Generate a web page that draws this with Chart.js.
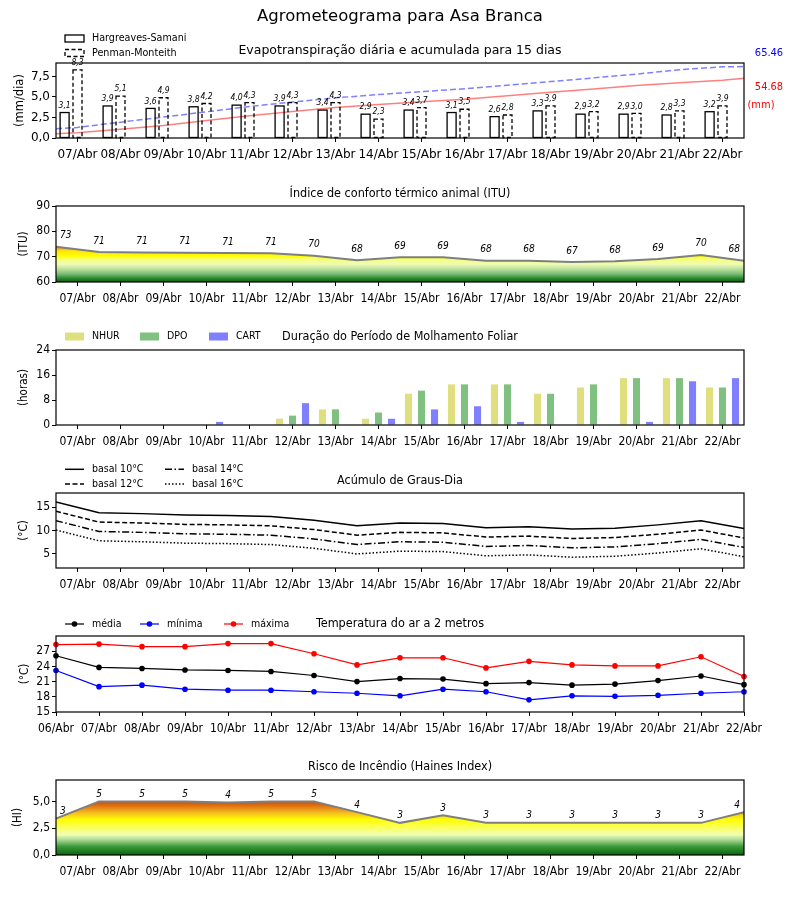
<!DOCTYPE html>
<html><head><meta charset="utf-8">
<script src="https://cdn.jsdelivr.net/npm/chart.js@4.4.1/dist/chart.umd.min.js"></script>
<style>
html,body{margin:0;padding:0;background:#fff;}
#wrap{position:relative;width:800px;height:900px;background:#fff;overflow:hidden;}
#wrap canvas{position:absolute;left:0;}
</style></head><body><div id="wrap"></div>
<script>
// ---------------- DATA ----------------
const mainTitle = 'Agrometeograma para Asa Branca';
const days = ['07/Abr','08/Abr','09/Abr','10/Abr','11/Abr','12/Abr','13/Abr','14/Abr','15/Abr','16/Abr','17/Abr','18/Abr','19/Abr','20/Abr','21/Abr','22/Abr'];
const tempDays = ['06/Abr','07/Abr','08/Abr','09/Abr','10/Abr','11/Abr','12/Abr','13/Abr','14/Abr','15/Abr','16/Abr','17/Abr','18/Abr','19/Abr','20/Abr','21/Abr','22/Abr'];

// Evapotranspiration (mm/dia)
const etHargreaves = [3.1,3.9,3.6,3.8,4.0,3.9,3.4,2.9,3.4,3.1,2.6,3.3,2.9,2.9,2.8,3.2];
const etPenman     = [8.3,5.1,4.9,4.2,4.3,4.3,4.3,2.3,3.7,3.5,2.8,3.9,3.2,3.0,3.3,3.9];
// accumulated (mm), read at day positions (-0.5 = left edge, 15.5 = right edge)
const cumPos      = [-0.5,0,1,2,3,4,5,6,7,8,9,10,11,12,13,14,15,15.5];
const cumPenman   = [8.5,9.7,14.5,19.2,24.0,28.9,33.0,36.8,39.8,42.5,45.1,48.4,51.7,55.1,58.5,62.6,65.2,65.46];
const cumHargreaves = [3.9,4.8,8.0,11.5,16.0,20.4,24.2,28.0,30.8,33.2,35.6,38.8,42.0,45.0,48.1,50.6,53.0,54.68];
const etYTicks = [0,2.5,5,7.5];

// ITU
const itu = [73.9,71.8,71.6,71.5,71.4,71.3,70.4,68.6,69.8,69.8,68.4,68.4,67.9,68.2,69.1,70.7,68.4];
const ituYTicks = [60,70,80,90];

// Leaf wetness (horas)
const nhur = [0,0,0,0,0,2,5,2,10,13,13,10,12,15,15,12];
const dpo  = [0,0,0,0,0,3,5,4,11,13,13,10,13,15,15,12];
const cart = [0,0,0,1,0,7,0,2,5,6,1,0,0,1,14,15];
const wetYTicks = [0,8,16,24];

// Degree days
const gd10 = [16.1,13.8,13.6,13.3,13.2,13.0,12.2,11.0,11.6,11.5,10.6,10.8,10.3,10.5,11.2,12.1,10.4];
const gd12 = [14.1,11.8,11.6,11.3,11.2,11.0,10.2,9.0,9.6,9.5,8.6,8.8,8.3,8.5,9.2,10.1,8.4];
const gd14 = [12.1,9.8,9.6,9.3,9.2,9.0,8.2,7.0,7.6,7.5,6.6,6.8,6.3,6.5,7.2,8.1,6.4];
const gd16 = [10.1,7.8,7.6,7.3,7.2,7.0,6.2,5.0,5.6,5.5,4.6,4.8,4.3,4.5,5.2,6.1,4.4];
const gdYTicks = [5,10,15];

// Air temperature
const tMean = [26.1,23.8,23.6,23.3,23.2,23.0,22.2,21.0,21.6,21.5,20.6,20.8,20.3,20.5,21.2,22.1,20.4];
const tMin  = [23.2,20.0,20.3,19.5,19.3,19.3,19.0,18.7,18.2,19.5,19.0,17.4,18.2,18.1,18.3,18.7,19.0];
const tMax  = [28.3,28.4,27.9,27.9,28.5,28.5,26.5,24.3,25.7,25.7,23.7,25.0,24.3,24.1,24.1,25.9,22.0];
const tYTicks = [15,18,21,24,27];

// Haines index
const haines = [3.4,5.0,5.0,5.0,4.9,5.0,5.0,4.0,3.0,3.7,3.0,3.0,3.0,3.0,3.0,3.0,4.0];
const hiYTicks = [0,2.5,5];

// ---------------- STYLE HELPERS ----------------
const FONT = "'DejaVu Sans'";
const COND = "'DejaVu Sans Condensed', 'DejaVu Sans'";
const comma1 = v => Number(v).toFixed(1).replace('.', ',');
const wrap = document.getElementById('wrap');

function makeCanvas(top, height) {
  const c = document.createElement('canvas');
  c.width = 800; c.height = height;
  c.style.top = top + 'px'; c.style.width = '800px'; c.style.height = height + 'px';
  wrap.appendChild(c);
  return c;
}

function xLinear(min, max, tickValues, labels, family) {
  return {
    type: 'linear', min, max, position: 'bottom', offset: false,
    afterBuildTicks: s => { s.ticks = tickValues.map(v => ({ value: v })); },
    afterFit: s => { s.height = 30; },
    ticks: { autoSkip: false, maxRotation: 0, minRotation: 0, padding: 6, color: '#000',
      font: { family, size: 12 }, callback: (v, i) => labels[i] },
    grid: { display: true, offset: false, drawOnChartArea: false, drawTicks: true, tickLength: 4, color: '#000', lineWidth: 1 },
    border: { display: false }
  };
}
function yLinear(min, max, tickValues, fmt, title, titlePad, family) {
  return {
    type: 'linear', min, max, position: 'left',
    afterBuildTicks: s => { s.ticks = tickValues.map(v => ({ value: v })); },
    afterFit: s => { s.width = 56; },
    ticks: { padding: 2, color: '#000', font: { family, size: 12 }, callback: v => fmt(v) },
    grid: { display: true, drawOnChartArea: false, drawTicks: true, tickLength: 4, color: '#000', lineWidth: 1 },
    border: { display: false },
    title: { display: true, text: title, color: '#000', font: { family, size: 11.5 }, padding: { top: titlePad, bottom: 0 } }
  };
}
function valueGradient(stops) {
  return (context) => {
    const chart = context.chart;
    if (!chart.chartArea) return 'rgba(0,0,0,0)';
    const y = chart.scales.y;
    const p0 = y.getPixelForValue(y.min), p1 = y.getPixelForValue(y.max);
    const g = chart.ctx.createLinearGradient(0, p0, 0, p1);
    stops.forEach(([v, c]) => g.addColorStop(Math.min(1, Math.max(0, (v - y.min) / (y.max - y.min))), c));
    return g;
  };
}
function baseOptions(padTop, scales, plugins) {
  return {
    responsive: false, animation: false, events: [],
    layout: { padding: { left: 0, right: 56, top: padTop, bottom: 0 } },
    plugins: Object.assign({ legend: { display: false }, title: { display: false }, tooltip: { enabled: false } }, plugins),
    scales
  };
}

// ---------------- PLUGINS ----------------
const outlineBars = {
  id: 'outlineBars',
  afterDatasetsDraw(chart) {
    const ctx = chart.ctx;
    chart.data.datasets.forEach((ds, di) => {
      if (!ds.outlineDash) return;
      const meta = chart.getDatasetMeta(di);
      ctx.save();
      ctx.strokeStyle = ds.outlineColor; ctx.lineWidth = ds.outlineWidth; ctx.setLineDash(ds.outlineDash);
      meta.data.forEach(el => {
        const p = el.getProps(['x', 'y', 'base', 'width'], true);
        if (Math.abs(p.base - p.y) < 0.5) return;
        ctx.strokeRect(p.x - p.width / 2, p.y, p.width, p.base - p.y);
      });
      ctx.restore();
    });
  }
};
const valueLabels = {
  id: 'valueLabels',
  afterDatasetsDraw(chart, args, opts) {
    if (!opts || !opts.sets) return;
    const ctx = chart.ctx, a = chart.chartArea;
    ctx.save();
    opts.sets.forEach(s => {
      const meta = chart.getDatasetMeta(s.datasetIndex);
      const ds = chart.data.datasets[s.datasetIndex];
      ctx.font = s.font; ctx.fillStyle = '#000'; ctx.textAlign = 'center'; ctx.textBaseline = 'middle';
      meta.data.forEach((el, i) => {
        const raw = ds.data[i];
        const val = (raw !== null && typeof raw === 'object') ? raw.y : raw;
        const txt = s.format(val);
        const w = ctx.measureText(txt).width;
        let x = el.x;
        if (s.clamp !== undefined) x = Math.min(Math.max(x, a.left + w / 2 + s.clamp), a.right - w / 2 - s.clamp);
        ctx.fillText(txt, x + (s.dx || 0), el.y + s.dy);
      });
    });
    ctx.restore();
  }
};
const decor = {
  id: 'decor',
  afterDraw(chart, args, opts) {
    const ctx = chart.ctx, a = chart.chartArea;
    ctx.save();
    ctx.strokeStyle = '#000'; ctx.lineWidth = 1.2; ctx.setLineDash([]);
    ctx.strokeRect(a.left, a.top, a.right - a.left, a.bottom - a.top);
    (opts.texts || []).forEach(t => {
      ctx.font = t.font; ctx.fillStyle = t.color || '#000';
      ctx.textAlign = t.align || 'center'; ctx.textBaseline = 'middle';
      ctx.fillText(t.text, t.x, t.y);
    });
    const lg = opts.legend;
    if (lg) {
      lg.items.forEach(it => {
        const ds = chart.data.datasets[it.datasetIndex];
        const x = it.x, y = it.y;
        ctx.save();
        if (it.kind === 'outlineBox') {
          ctx.fillStyle = '#fff'; ctx.fillRect(x, y - 3.5, 19, 7);
          ctx.strokeStyle = ds.outlineColor; ctx.lineWidth = ds.outlineWidth; ctx.setLineDash(ds.outlineDash);
          ctx.strokeRect(x, y - 3.5, 19, 7);
        } else if (it.kind === 'box') {
          ctx.fillStyle = ds.backgroundColor; ctx.fillRect(x, y - 4, 19, 8);
        } else {
          ctx.strokeStyle = ds.borderColor; ctx.lineWidth = ds.borderWidth; ctx.setLineDash(ds.borderDash || []);
          ctx.beginPath(); ctx.moveTo(x, y); ctx.lineTo(x + 19, y); ctx.stroke();
          if (it.kind === 'linePoint') {
            ctx.setLineDash([]); ctx.fillStyle = ds.pointBackgroundColor;
            ctx.beginPath(); ctx.arc(x + 9.5, y, ds.pointRadius, 0, Math.PI * 2); ctx.fill();
          }
        }
        ctx.restore();
        ctx.font = lg.font; ctx.fillStyle = '#000'; ctx.textAlign = 'left'; ctx.textBaseline = 'middle';
        ctx.fillText(ds.label, x + 27, y);
      });
    }
    ctx.restore();
  }
};
Chart.register(outlineBars, valueLabels, decor);

const halfTicks = days.map((d, i) => i + 0.5);
const dayTicks = days.map((d, i) => i);
const tempTicks = tempDays.map((d, i) => i);
const xy = (arr, off) => arr.map((v, i) => ({ x: i + off, y: v }));

// ---------------- 1. Evapotranspiração ----------------
new Chart(makeCanvas(0, 168), {
  type: 'bar',
  data: { datasets: [
    { type: 'line', label: 'Penman-Monteith acumulada', data: cumPos.map((x, i) => ({ x, y: cumPenman[i] })), yAxisID: 'y2',
      borderColor: 'rgba(0,0,255,0.5)', borderDash: [6, 3], borderWidth: 1.5, pointRadius: 0, order: 0 },
    { type: 'line', label: 'Hargreaves-Samani acumulada', data: cumPos.map((x, i) => ({ x, y: cumHargreaves[i] })), yAxisID: 'y2',
      borderColor: 'rgba(255,0,0,0.5)', borderWidth: 1.5, pointRadius: 0, order: 0 },
    { type: 'bar', label: 'Hargreaves-Samani', data: xy(etHargreaves, -0.3), backgroundColor: '#fff', borderWidth: 0,
      barThickness: 9, grouped: false, outlineDash: [], outlineColor: '#000', outlineWidth: 1.3, order: 1 },
    { type: 'bar', label: 'Penman-Monteith', data: xy(etPenman, 0), backgroundColor: '#fff', borderWidth: 0,
      barThickness: 9, grouped: false, outlineDash: [4, 2.5], outlineColor: '#000', outlineWidth: 1.3, order: 1 }
  ]},
  options: baseOptions(63, {
    x: xLinear(-0.5, 15.5, dayTicks, days, FONT),
    y: yLinear(0, 9.13, etYTicks, comma1, '(mm/dia)', 13, FONT),
    y2: { type: 'linear', min: 0, max: 68.73, display: false }
  }, {
    valueLabels: { sets: [
      { datasetIndex: 2, format: comma1, dy: -7, font: "italic 8.5px " + COND },
      { datasetIndex: 3, format: comma1, dy: -7, font: "italic 8.5px " + COND }
    ]},
    decor: {
      texts: [
        { text: mainTitle, x: 400, y: 17, font: "16.5px " + FONT },
        { text: 'Evapotranspiração diária e acumulada para 15 dias', x: 400, y: 51, font: "12.5px " + FONT },
        { text: cumPenman[cumPenman.length - 1].toFixed(2), x: 769, y: 53, font: "11px " + COND, color: '#0000ff' },
        { text: cumHargreaves[cumHargreaves.length - 1].toFixed(2), x: 769, y: 87, font: "11px " + COND, color: '#ff0000' },
        { text: '(mm)', x: 761, y: 105, font: "11px " + COND, color: '#ff0000' }
      ],
      legend: { font: "9.6px " + FONT, items: [
        { datasetIndex: 2, kind: 'outlineBox', x: 65, y: 38.5 },
        { datasetIndex: 3, kind: 'outlineBox', x: 65, y: 53 }
      ]}
    }
  })
});

// ---------------- 2. ITU ----------------
const ituStops = [[60,'#0b5e0b'],[61.5,'#2e8b2e'],[63,'#72b872'],[65,'#b8de9c'],[67,'#eefbb4'],[69,'#f6ff78'],[70,'#ffff10'],[72.3,'#ffe800'],[73,'#f8b030'],[74,'#f09028'],[90,'#e06000']];
new Chart(makeCanvas(168, 144), {
  type: 'line',
  data: { datasets: [
    { label: 'ITU', data: xy(itu, 0), borderColor: '#7f7f7f', borderWidth: 2, pointRadius: 0, fill: 'start',
      backgroundColor: valueGradient(ituStops) }
  ]},
  options: baseOptions(38, {
    x: xLinear(0, 16, halfTicks, days, COND),
    y: yLinear(60, 90, ituYTicks, v => String(v), '(ITU)', 17, COND)
  }, {
    valueLabels: { sets: [ { datasetIndex: 0, format: v => String(Math.floor(v)), dy: -11, clamp: 4, font: "italic 10px " + COND } ] },
    decor: { texts: [ { text: 'Índice de conforto térmico animal (ITU)', x: 400, y: 26, font: "12.5px " + COND } ] }
  })
});

// ---------------- 3. Molhamento foliar ----------------
new Chart(makeCanvas(312, 143), {
  type: 'bar',
  data: { labels: days, datasets: [
    { label: 'NHUR', data: nhur, backgroundColor: 'rgb(223,223,128)', categoryPercentage: 0.91, barPercentage: 0.54 },
    { label: 'DPO', data: dpo, backgroundColor: 'rgb(128,192,128)', categoryPercentage: 0.91, barPercentage: 0.54 },
    { label: 'CART', data: cart, backgroundColor: 'rgb(128,128,255)', categoryPercentage: 0.91, barPercentage: 0.54 }
  ]},
  options: baseOptions(38, {
    x: {
      type: 'category', offset: true, afterFit: s => { s.height = 30; },
      ticks: { autoSkip: false, maxRotation: 0, minRotation: 0, padding: 6, color: '#000', font: { family: COND, size: 12 } },
      grid: { display: true, offset: false, drawOnChartArea: false, drawTicks: true, tickLength: 4, color: '#000' },
      border: { display: false }
    },
    y: yLinear(0, 24, wetYTicks, v => String(v), '(horas)', 17, COND)
  }, {
    decor: {
      texts: [ { text: 'Duração do Período de Molhamento Foliar', x: 400, y: 25, font: "12.5px " + COND } ],
      legend: { font: "10.5px " + COND, items: [
        { datasetIndex: 0, kind: 'box', x: 65, y: 24.5 },
        { datasetIndex: 1, kind: 'box', x: 140, y: 24.5 },
        { datasetIndex: 2, kind: 'box', x: 209, y: 24.5 }
      ]}
    }
  })
});

// ---------------- 4. Graus-dia ----------------
new Chart(makeCanvas(455, 143), {
  type: 'line',
  data: { datasets: [
    { label: 'basal 10°C', data: xy(gd10, 0), borderColor: '#000', borderWidth: 1.5, pointRadius: 0 },
    { label: 'basal 12°C', data: xy(gd12, 0), borderColor: '#000', borderWidth: 1.5, borderDash: [5, 2.5], pointRadius: 0 },
    { label: 'basal 14°C', data: xy(gd14, 0), borderColor: '#000', borderWidth: 1.5, borderDash: [7, 2.5, 1.5, 2.5], pointRadius: 0 },
    { label: 'basal 16°C', data: xy(gd16, 0), borderColor: '#000', borderWidth: 1.5, borderDash: [1.5, 2], pointRadius: 0 }
  ]},
  options: baseOptions(38, {
    x: xLinear(0, 16, halfTicks, days, COND),
    y: yLinear(2, 18, gdYTicks, v => String(v), '(°C)', 17, COND)
  }, {
    decor: {
      texts: [ { text: 'Acúmulo de Graus-Dia', x: 400, y: 26, font: "12.5px " + COND } ],
      legend: { font: "10.5px " + COND, items: [
        { datasetIndex: 0, kind: 'line', x: 65, y: 14.3 },
        { datasetIndex: 1, kind: 'line', x: 65, y: 29 },
        { datasetIndex: 2, kind: 'line', x: 165, y: 14.3 },
        { datasetIndex: 3, kind: 'line', x: 165, y: 29 }
      ]}
    }
  })
});

// ---------------- 5. Temperatura ----------------
new Chart(makeCanvas(598, 144), {
  type: 'line',
  data: { datasets: [
    { label: 'média', data: xy(tMean, 0), borderColor: '#000', pointBackgroundColor: '#000', pointBorderWidth: 0, borderWidth: 1.2, pointRadius: 2.8 },
    { label: 'mínima', data: xy(tMin, 0), borderColor: '#0000ff', pointBackgroundColor: '#0000ff', pointBorderWidth: 0, borderWidth: 1.2, pointRadius: 2.8 },
    { label: 'máxima', data: xy(tMax, 0), borderColor: '#ff0000', pointBackgroundColor: '#ff0000', pointBorderWidth: 0, borderWidth: 1.2, pointRadius: 2.8 }
  ]},
  options: Object.assign(baseOptions(38, {
    x: xLinear(0, 16, tempTicks, tempDays, COND),
    y: yLinear(15, 30, tYTicks, v => String(v), '(°C)', 18, COND)
  }, {
    decor: {
      texts: [ { text: 'Temperatura do ar a 2 metros', x: 400, y: 26, font: "12.5px " + COND } ],
      legend: { font: "10.5px " + COND, items: [
        { datasetIndex: 0, kind: 'linePoint', x: 65, y: 26 },
        { datasetIndex: 1, kind: 'linePoint', x: 140, y: 26 },
        { datasetIndex: 2, kind: 'linePoint', x: 224, y: 26 }
      ]}
    }
  }), { clip: false })
});

// ---------------- 6. Haines ----------------
const hiStops = [[0,'#0a640a'],[0.8,'#3c9a3c'],[1.4,'#a8d890'],[1.9,'#f0ffb8'],[2.4,'#f8ff70'],[3.3,'#ffff00'],[3.9,'#f5c020'],[4.6,'#e07010'],[5.0,'#d05000'],[7,'#b04000']];
new Chart(makeCanvas(742, 143), {
  type: 'line',
  data: { datasets: [
    { label: 'HI', data: xy(haines, 0), borderColor: '#7f7f7f', borderWidth: 2, pointRadius: 0, fill: 'start',
      backgroundColor: valueGradient(hiStops) }
  ]},
  options: baseOptions(38, {
    x: xLinear(0, 16, halfTicks, days, COND),
    y: yLinear(0, 7, hiYTicks, comma1, '(HI)', 11, COND)
  }, {
    valueLabels: { sets: [ { datasetIndex: 0, format: v => String(Math.floor(v)), dy: -7, clamp: 4, font: "italic 10px " + COND } ] },
    decor: { texts: [ { text: 'Risco de Incêndio (Haines Index)', x: 400, y: 25, font: "12.5px " + COND } ] }
  })
});
</script></body></html>
